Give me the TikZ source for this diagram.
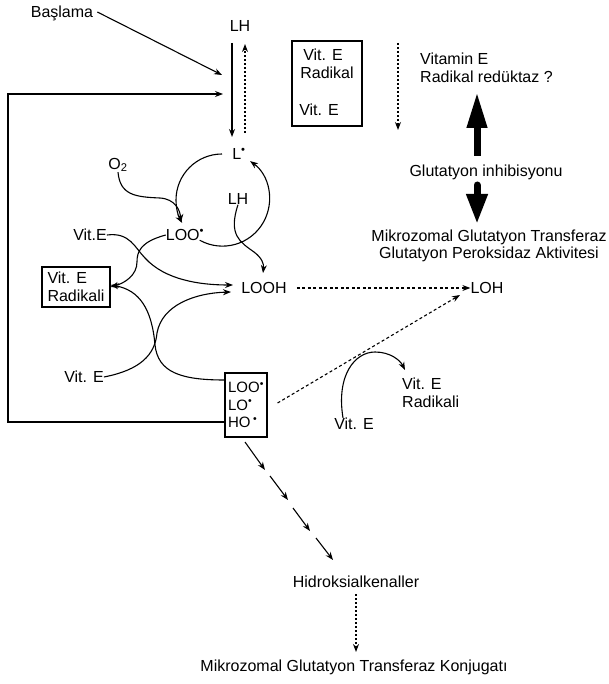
\documentclass[tikz,border=0pt]{standalone}
\usepackage{fontspec}
\setmainfont{Liberation Sans}
\usetikzlibrary{arrows.meta}
\newcommand\rdot{\textsuperscript{\textbullet}}
\begin{document}
\begin{tikzpicture}[x=1pt,y=1pt,
  lbl/.style={font=\fontsize{16}{17.5}\selectfont, inner sep=0pt},
  ln/.style={line width=1.1pt},
  arr/.style={ln,-{Stealth[length=8pt,width=6pt]}},
  dsh/.style={arr, dash pattern=on 3pt off 2.5pt},
  dot/.style={arr, dash pattern=on 2pt off 2pt},
  thick arrow/.style={line width=7pt,-{Triangle[width=19pt,length=36pt]}},
]
\useasboundingbox (0,0) rectangle (609,-684);
% nodes
\node[lbl] (start) at (62,-13) {Başlama};
\node[lbl] (lh1) at (240,-26) {LH};
\node[lbl] (l) at (239,-154) {L\rdot};
\node[lbl] (o2) at (118,-165) {O\textsubscript{2}};
\node[lbl] (lh2) at (238,-199) {LH};
\node[lbl] (loo) at (185,-235) {LOO\rdot};
\node[lbl] (vite1) at (90,-235) {Vit.E};
\node[lbl, draw, ln, align=left, minimum width=68pt, minimum height=40pt] (vrad) at (76,-287) {Vit. E\\Radikali};
\node[lbl] (looh) at (264,-288) {LOOH};
\node[lbl] (vite2) at (84,-377) {Vit. E};
\node[lbl, draw, ln, align=left, minimum width=42pt, minimum height=64pt, font=\fontsize{15}{17.5}\selectfont] (box) at (246,-405) {LOO\rdot\\LO\rdot\\HO\,\rdot};
\node[lbl] (loh) at (487,-288) {LOH};
\node[lbl, align=center] (mgt) at (489,-246) {Mikrozomal Glutatyon Transferaz\\Glutatyon Peroksidaz Aktivitesi};
\node[lbl] (gi) at (486,-172) {Glutatyon inhibisyonu};
\node[lbl, align=left, anchor=west] (ver) at (420,-68) {Vitamin E\\Radikal redüktaz ?};
\node[draw, ln, minimum width=70pt, minimum height=85pt] (vb) at (327,-83.5) {};
\node[lbl] (vb1) at (323,-55) {Vit. E};
\node[lbl] (vb2) at (327,-73) {Radikal};
\node[lbl] (vb3) at (319,-110) {Vit. E};
\node[lbl] (vite3) at (354,-424) {Vit. E};
\node[lbl, align=left, anchor=west] (vrad2) at (402,-393) {Vit. E\\Radikali};
\node[lbl] (hidro) at (356,-582) {Hidroksialkenaller};
\node[lbl] (konj) at (354,-667) {Mikrozomal Glutatyon Transferaz Konjugatı};
\coordinate (C) at (222,-200);
% top
\draw[arr] (start.east) ++(4,1) -- (222,-75);
\draw[arr] (232,-43) -- (232,-137);
\draw[dot] (245,-133) -- (245,-44);
\draw[dot] (398,-43) -- (398,-130);
\draw[arr] (box.west |- 0,-422) -- (8,-422) -- (8,-94) -- (223,-94);
% cycle
\draw[arr] ([shift={(90:46)}]C) arc (90:210:46);
\draw[arr] ([shift={(241:46)}]C) arc (241:414:47);
\draw[arr] (o2.south) .. controls (120,-195) and (135,-197) .. (160,-198) .. controls (175,-199) and (180,-210) .. (181,-222);
\draw[arr] (lh2.south) .. controls (228,-235) and (240,-242) .. (254,-252) .. controls (262,-258) and (264,-264) .. (263,-273);
% crossings
\draw[arr] (vite1.east) .. controls (130,-232) and (135,-248) .. (145,-258) .. controls (165,-280) and (200,-285) .. (233,-285);
\draw[arr] (loo.west) .. controls (140,-242) and (137,-252) .. (137,-262) .. controls (137,-275) and (125,-283) .. (vrad.east);
\draw[arr] (vite2.east) .. controls (140,-370) and (155,-355) .. (157,-333) .. controls (162,-305) and (195,-293) .. (231,-292);
\draw[arr] (box.west |- 0,-380) .. controls (180,-380) and (158,-372) .. (155,-345) .. controls (152,-310) and (140,-290) .. ([yshift=2pt]vrad.east);
% right
\draw[dsh, shorten <=10pt] (looh.east) -- (loh.west);
\draw[dsh] (box.east |- 0,-403) ++(10,0) -- (460,-295);
\draw[arr] (vite3.north) ++(-11,0) .. controls (336,-375) and (355,-352) .. (375,-352) .. controls (390,-352) and (400,-360) .. (405,-370);
\draw[thick arrow] (477,-156) -- (477,-92);
\draw[thick arrow, line cap=round, -{Triangle[width=20pt,length=30pt]}] (477,-185) -- (477,-224);
% bottom
\draw[arr] (245,-442) -- (265,-470);
\draw[arr] (270,-476) -- (288,-500);
\draw[arr] (293,-508) -- (310,-531);
\draw[arr] (316,-538) -- (333,-560);
\draw[dot] (hidro.south) ++(0,-6) -- (356,-652);
\end{tikzpicture}
\end{document}
